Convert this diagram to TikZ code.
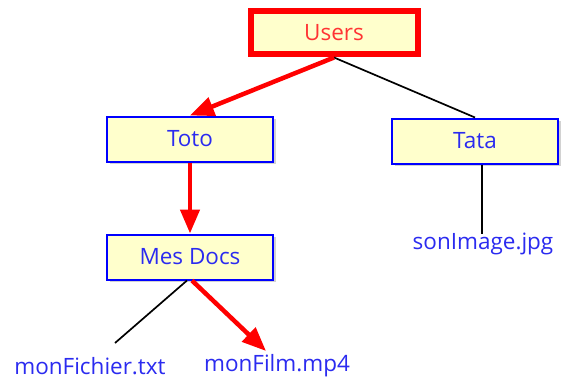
\documentclass[tikz,border=0pt]{standalone}
\usepackage{fontspec}
\setmainfont{Open Sans}
\usetikzlibrary{arrows.meta,shadows}
\definecolor{boxfill}{HTML}{FFFFCC}
\definecolor{txtblue}{HTML}{2B2BF0}
\definecolor{linkred}{HTML}{FF0000}
\tikzset{
  label font/.style={font=\fontsize{22.5}{26}\selectfont},
  folder/.style={draw=blue, line width=2pt, fill=boxfill, minimum width=166pt,
    minimum height=45pt, inner sep=0pt, text=txtblue, label font,
    drop shadow={opacity=0.35, shadow xshift=2.5pt, shadow yshift=-2.5pt}},
  rootbox/.style={folder, draw=linkred, line width=6pt, text=linkred!80, minimum width=167pt, minimum height=43pt},
  file/.style={text=txtblue, inner sep=0pt, label font},
  plain/.style={draw=black, line width=1.7pt},
  path/.style={draw=linkred, line width=4.5pt, -{Triangle[length=24pt,width=19pt]}}
}
\begin{document}
\begin{tikzpicture}[x=1pt,y=-1pt]
\useasboundingbox[fill=white] (0,0) rectangle (569,385);
\node[rootbox] (users) at (334,33) {Users};
\node[folder] (toto) at (190,139) {Toto};
\node[folder] (tata) at (475,141) {Tata};
\node[folder] (docs) at (190,257) {Mes Docs};
\node[file] (img) at (483,244) {sonImage.jpg};
\node[file] (fic) at (90,366) {monFichier.txt};
\node[file] (film) at (277,366) {monFilm.mp4};
\coordinate (ficend) at (115,343);
\coordinate (filmend) at (266,351);
\coordinate (imgtop) at (482,234);
\draw[plain] (users.south) -- (tata.north);
\draw[plain] (tata.south -| imgtop) -- (imgtop);
\draw[plain] ([xshift=-3pt]docs.south) -- (ficend);
\draw[path] (users.south) -- (toto.north);
\draw[path] (toto.south) -- (docs.north);
\draw[path] ([xshift=2pt]docs.south) -- (filmend);
\end{tikzpicture}
\end{document}
